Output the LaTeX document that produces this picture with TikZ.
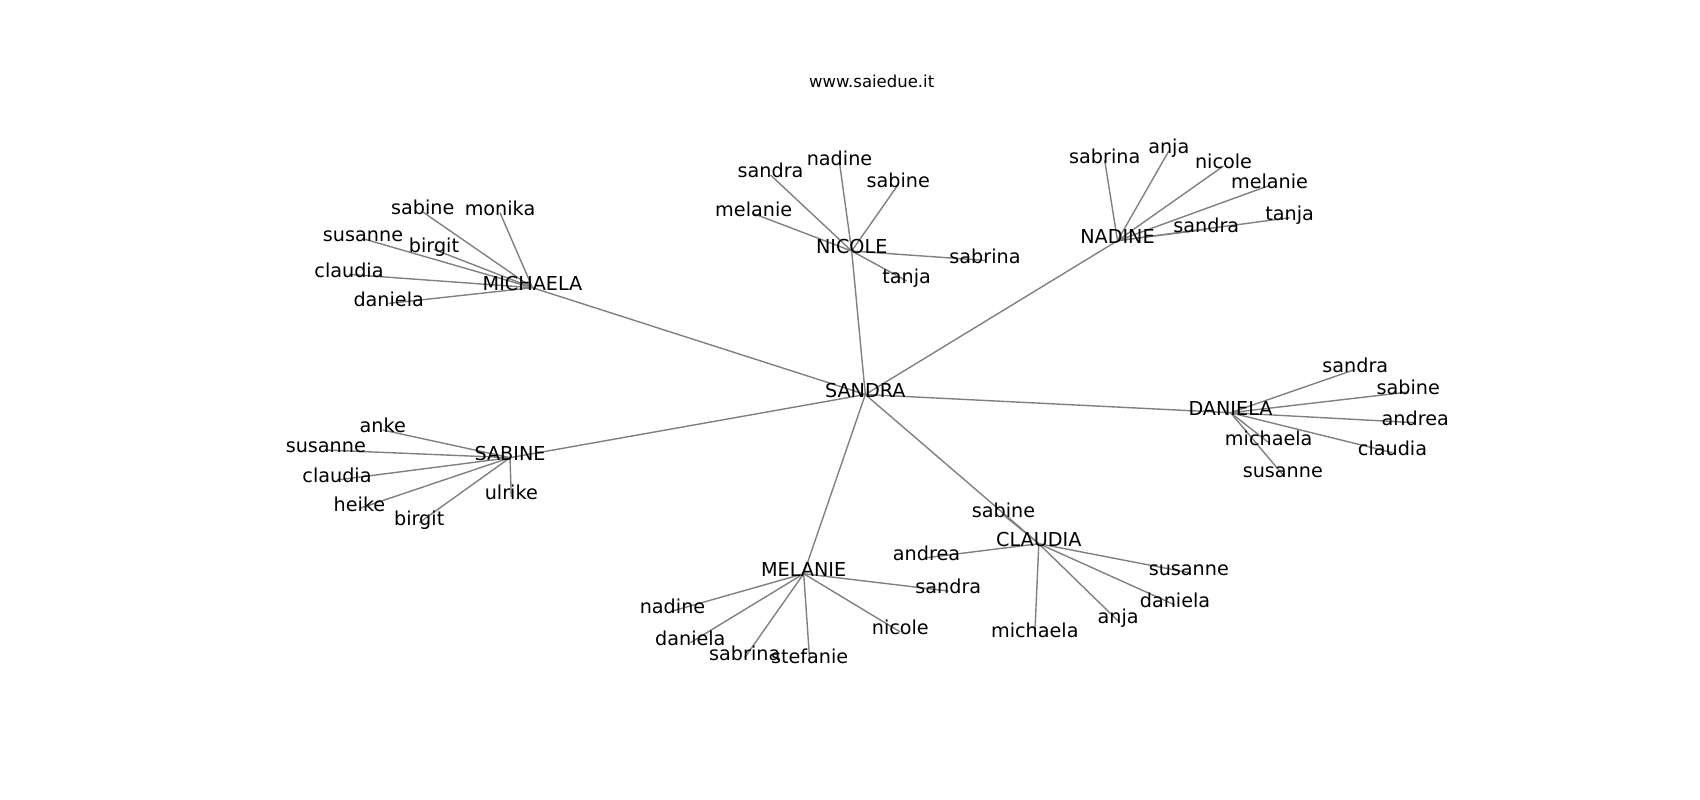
\documentclass[tikz,border=0pt]{standalone}
\usepackage{fontspec}
\setmainfont{DejaVu Sans}
\usetikzlibrary{backgrounds}
\tikzset{
  lbl/.style={inner sep=0pt, outer sep=0pt, anchor=center, text=black,
    font=\fontsize{19.2}{22}\selectfont, text height=0.76em, text depth=0.208em},
  edge/.style={draw=black!50, line width=1.4pt},
  ttl/.style={inner sep=0pt, anchor=base, font=\fontsize{16.5}{19}\selectfont}
}
\begin{document}
\begin{tikzpicture}[x=1pt,y=-1pt]
\useasboundingbox (0,0) rectangle (1700,800);
\node[ttl] (title) at (871.7,87.7) {www.saiedue.it};
\begin{scope}[shift={(0,3)}]
% hubs
\node[lbl] (SA) at (865.3,391.5) {SANDRA};
\node[lbl] (MI) at (532.5,284.7) {MICHAELA};
\node[lbl] (NI) at (851.7,248.0) {NICOLE};
\node[lbl] (NA) at (1117.5,237.7) {NADINE};
\node[lbl] (DA) at (1230.5,409.7) {DANIELA};
\node[lbl] (SB) at (510.0,454.7) {SABINE};
\node[lbl] (ME) at (803.7,570.7) {MELANIE};
\node[lbl] (CL) at (1038.8,540.7) {CLAUDIA};
% MICHAELA
\node[lbl] (mi1) at (422.8,209.0) {sabine};
\node[lbl] (mi2) at (500.0,209.7) {monika};
\node[lbl] (mi3) at (363.0,235.7) {susanne};
\node[lbl] (mi4) at (434.0,246.4) {birgit};
\node[lbl] (mi5) at (349.0,271.4) {claudia};
\node[lbl] (mi6) at (388.7,300.4) {daniela};
% NICOLE
\node[lbl] (ni1) at (839.5,159.7) {nadine};
\node[lbl] (ni2) at (770.5,172.0) {sandra};
\node[lbl] (ni3) at (898.3,181.4) {sabine};
\node[lbl] (ni4) at (753.7,210.7) {melanie};
\node[lbl] (ni5) at (985.0,257.4) {sabrina};
\node[lbl] (ni6) at (906.7,278.0) {tanja};
% NADINE
\node[lbl] (na1) at (1104.7,157.4) {sabrina};
\node[lbl] (na2) at (1168.8,148.0) {anja};
\node[lbl] (na3) at (1223.5,163.0) {nicole};
\node[lbl] (na4) at (1269.5,182.4) {melanie};
\node[lbl] (na5) at (1289.7,214.7) {tanja};
\node[lbl] (na6) at (1206.3,226.4) {sandra};
% DANIELA
\node[lbl] (da1) at (1355.3,366.4) {sandra};
\node[lbl] (da2) at (1408.3,389.0) {sabine};
\node[lbl] (da3) at (1415.2,419.7) {andrea};
\node[lbl] (da4) at (1392.5,449.7) {claudia};
\node[lbl] (da5) at (1268.7,439.7) {michaela};
\node[lbl] (da6) at (1282.8,471.7) {susanne};
% SABINE
\node[lbl] (sb1) at (382.8,427.0) {anke};
\node[lbl] (sb2) at (325.8,447.0) {susanne};
\node[lbl] (sb3) at (337.0,477.0) {claudia};
\node[lbl] (sb4) at (359.5,505.4) {heike};
\node[lbl] (sb5) at (419.2,519.7) {birgit};
\node[lbl] (sb6) at (511.3,494.0) {ulrike};
% MELANIE
\node[lbl] (me1) at (672.5,608.0) {nadine};
\node[lbl] (me2) at (690.3,639.7) {daniela};
\node[lbl] (me3) at (744.7,654.7) {sabrina};
\node[lbl] (me4) at (809.7,657.4) {stefanie};
\node[lbl] (me5) at (900.3,629.0) {nicole};
\node[lbl] (me6) at (948.3,588.0) {sandra};
% CLAUDIA
\node[lbl] (cl1) at (1003.5,512.0) {sabine};
\node[lbl] (cl2) at (926.5,554.7) {andrea};
\node[lbl] (cl3) at (1188.8,569.7) {susanne};
\node[lbl] (cl4) at (1175.0,602.0) {daniela};
\node[lbl] (cl5) at (1118.2,618.0) {anja};
\node[lbl] (cl6) at (1034.8,631.4) {michaela};
\end{scope}
\begin{scope}[on background layer]
  \foreach \h in {MI,NI,NA,DA,SB,ME,CL}{\draw[edge] (SA.center) -- (\h.center);}
  \foreach \i in {1,...,6}{
    \draw[edge] (MI.center) -- (mi\i.center);
    \draw[edge] (NI.center) -- (ni\i.center);
    \draw[edge] (NA.center) -- (na\i.center);
    \draw[edge] (DA.center) -- (da\i.center);
    \draw[edge] (SB.center) -- (sb\i.center);
    \draw[edge] (ME.center) -- (me\i.center);
    \draw[edge] (CL.center) -- (cl\i.center);
  }
\end{scope}
\end{tikzpicture}
\end{document}
